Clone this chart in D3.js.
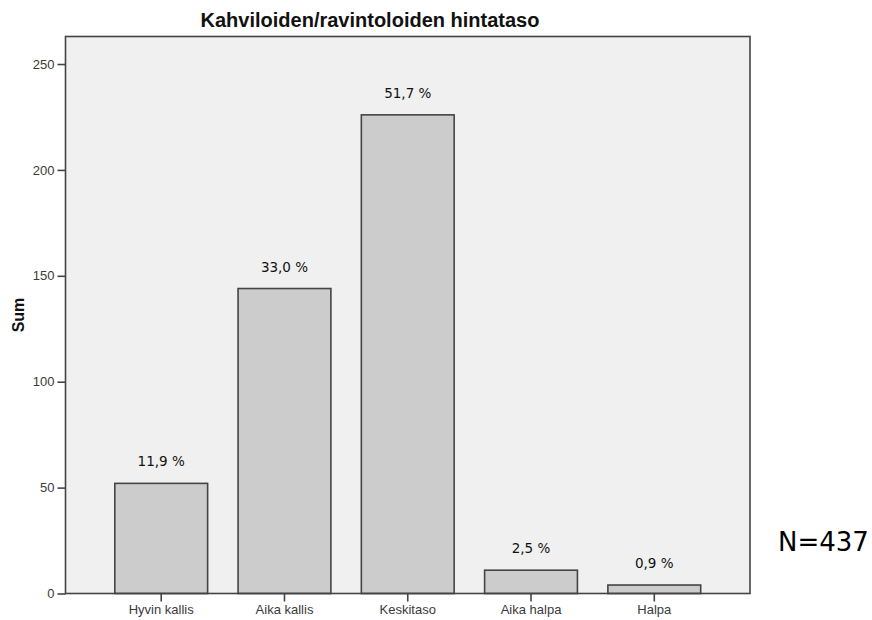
<!DOCTYPE html>
<html>
<head>
<meta charset="utf-8">
<script src="https://cdn.jsdelivr.net/npm/d3@7"></script>
<style>
  html, body { margin: 0; padding: 0; background: #ffffff; }
  svg { display: block; }
</style>
</head>
<body>
<svg id="chart" width="872" height="620"></svg>
<script>
// Price level of cafés/restaurants: counts per answer category
const categories = ["Hyvin kallis", "Aika kallis", "Keskitaso", "Aika halpa", "Halpa"];
const counts = [52, 144, 226, 11, 4];
const percentLabels = ["11,9 %", "33,0 %", "51,7 %", "2,5 %", "0,9 %"];
const yTicks = [0, 50, 100, 150, 200, 250];
const totalN = 437;

const svg = d3.select("#chart");
const plot = { left: 65.5, right: 750, top: 36.5, bottom: 593.5 };

const x = d3.scaleBand()
  .domain(categories)
  .range([plot.left, plot.right])
  .paddingInner(0.247)
  .paddingOuter(0.4);

const y = d3.scaleLinear()
  .domain([0, 263])
  .range([plot.bottom, plot.top]);

// plot background
svg.append("rect")
  .attr("x", plot.left).attr("y", plot.top)
  .attr("width", plot.right - plot.left)
  .attr("height", plot.bottom - plot.top)
  .attr("fill", "#f0f0f0");

// bars
svg.append("g").selectAll("rect")
  .data(categories)
  .join("rect")
  .attr("x", d => x(d))
  .attr("y", (d, i) => y(counts[i]))
  .attr("width", x.bandwidth())
  .attr("height", (d, i) => y(0) - y(counts[i]))
  .attr("fill", "#cccccc")
  .attr("stroke", "#444444")
  .attr("stroke-width", 1.6);

// frame
svg.append("rect")
  .attr("x", plot.left).attr("y", plot.top)
  .attr("width", plot.right - plot.left)
  .attr("height", plot.bottom - plot.top)
  .attr("fill", "none")
  .attr("stroke", "#444444")
  .attr("stroke-width", 1.6);

// y axis
const yAxis = svg.append("g")
  .attr("transform", `translate(${plot.left},0)`)
  .call(d3.axisLeft(y).tickValues(yTicks).tickSize(8).tickPadding(3));
yAxis.select(".domain").remove();
yAxis.selectAll(".tick line").attr("stroke", "#444").attr("stroke-width", 1.6);
yAxis.selectAll(".tick text")
  .attr("fill", "#3a3a3a")
  .style("font-family", "Arial, 'Liberation Sans', sans-serif")
  .style("font-size", "13px");

// x axis
const xAxis = svg.append("g")
  .attr("transform", `translate(0,${plot.bottom})`)
  .call(d3.axisBottom(x).tickSize(8).tickPadding(3));
xAxis.select(".domain").remove();
xAxis.selectAll(".tick line").attr("stroke", "#444").attr("stroke-width", 1.6);
xAxis.selectAll(".tick text")
  .attr("fill", "#3a3a3a")
  .style("font-family", "Arial, 'Liberation Sans', sans-serif")
  .style("font-size", "13px");

// percentage labels above bars
svg.append("g").selectAll("text")
  .data(categories)
  .join("text")
  .attr("x", d => x(d) + x.bandwidth() / 2)
  .attr("y", (d, i) => y(counts[i]) - 17)
  .attr("text-anchor", "middle")
  .attr("fill", "#111")
  .style("font-family", "'DejaVu Sans', Verdana, sans-serif")
  .style("font-size", "13.5px")
  .text((d, i) => percentLabels[i]);

// title
svg.append("text")
  .attr("x", 370)
  .attr("y", 27)
  .attr("text-anchor", "middle")
  .attr("fill", "#111")
  .style("font-family", "Arial, 'Liberation Sans', sans-serif")
  .style("font-weight", "bold")
  .style("font-size", "20px")
  .text("Kahviloiden/ravintoloiden hintataso");

// y axis title
svg.append("text")
  .attr("transform", `translate(24,${(plot.top + plot.bottom) / 2}) rotate(-90)`)
  .attr("text-anchor", "middle")
  .attr("fill", "#111")
  .style("font-family", "Arial, 'Liberation Sans', sans-serif")
  .style("font-weight", "bold")
  .style("font-size", "16px")
  .text("Sum");

// sample size
svg.append("text")
  .attr("x", 778)
  .attr("y", 551)
  .attr("fill", "#000")
  .style("font-family", "'DejaVu Sans', Verdana, sans-serif")
  .style("font-size", "26px")
  .text(`N=${totalN}`);
</script>
</body>
</html>
